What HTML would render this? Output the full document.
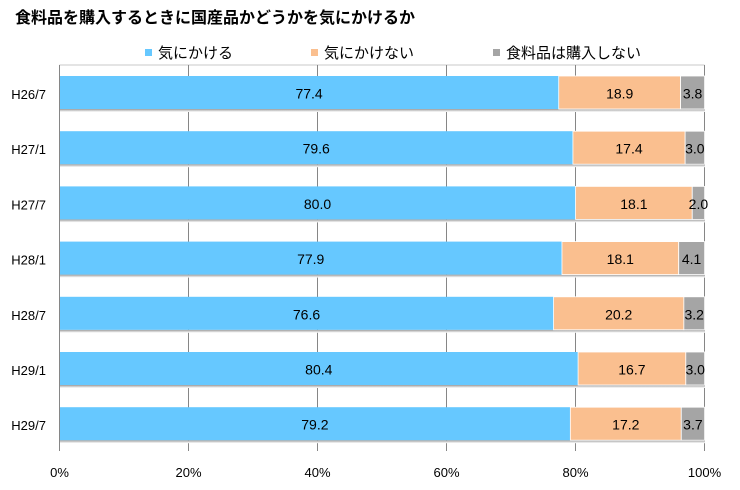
<!DOCTYPE html>
<html><head><meta charset="utf-8"><style>
html,body{margin:0;padding:0;background:#fff;}
svg{display:block;}
text{font-family:"Liberation Sans","Noto Sans CJK JP",sans-serif;fill:#000;}
.cj{font-family:"Liberation Sans","Noto Sans CJK JP",sans-serif;}
</style></head><body>
<svg width="740" height="490" viewBox="0 0 740 490" xmlns="http://www.w3.org/2000/svg">
<defs>
<linearGradient id="sh" x1="0" y1="0" x2="0" y2="1">
<stop offset="0" stop-color="#9a9a9a"/><stop offset="1" stop-color="#ffffff"/>
</linearGradient>
</defs>
<text x="15" y="23" class="cj" font-size="16" font-weight="bold">食料品を購入するときに国産品かどうかを気にかけるか</text>
<!-- legend -->
<rect x="145" y="49" width="7" height="7" fill="#66C8FF"/>
<text x="158" y="58" class="cj" font-size="15">気にかける</text>
<rect x="311" y="49" width="7" height="7" fill="#FABF8F"/>
<text x="324" y="58" class="cj" font-size="15">気にかけない</text>
<rect x="493" y="49" width="7" height="7" fill="#A5A5A5"/>
<text x="506" y="58" class="cj" font-size="15">食料品は購入しない</text>
<!-- plot frame -->
<line x1="59.5" y1="65" x2="704.5" y2="65" stroke="#c8c8c8" stroke-width="1"/>
<g stroke="#868686" stroke-width="1">
<line x1="188.5" y1="65" x2="188.5" y2="451"/>
<line x1="317.5" y1="65" x2="317.5" y2="451"/>
<line x1="446.5" y1="65" x2="446.5" y2="451"/>
<line x1="575.5" y1="65" x2="575.5" y2="451"/>
<line x1="704.5" y1="65" x2="704.5" y2="451"/>
<line x1="59.5" y1="65" x2="59.5" y2="451"/>
</g>
<g id="bars">
<!-- row template: top y, height 33 -->
<g transform="translate(0,76)">
<rect x="60" y="33" width="645" height="3" fill="url(#sh)"/>
<rect x="60" y="0" width="498.73" height="33" fill="#66C8FF"/>
<rect x="558.73" y="0" width="121.87" height="33" fill="#FABF8F" stroke="#fff" stroke-width="0.8"/>
<rect x="680.6" y="0" width="24" height="33" fill="#A5A5A5" stroke="#fff" stroke-width="0.8"/>
</g>
<g transform="translate(0,131.2)">
<rect x="60" y="33" width="645" height="3" fill="url(#sh)"/>
<rect x="60" y="0" width="512.92" height="33" fill="#66C8FF"/>
<rect x="572.92" y="0" width="112.23" height="33" fill="#FABF8F" stroke="#fff" stroke-width="0.8"/>
<rect x="685.15" y="0" width="19.35" height="33" fill="#A5A5A5" stroke="#fff" stroke-width="0.8"/>
</g>
<g transform="translate(0,186.4)">
<rect x="60" y="33" width="645" height="3" fill="url(#sh)"/>
<rect x="60" y="0" width="515.5" height="33" fill="#66C8FF"/>
<rect x="575.5" y="0" width="116.75" height="33" fill="#FABF8F" stroke="#fff" stroke-width="0.8"/>
<rect x="692.25" y="0" width="12.25" height="33" fill="#A5A5A5" stroke="#fff" stroke-width="0.8"/>
</g>
<g transform="translate(0,241.6)">
<rect x="60" y="33" width="645" height="3" fill="url(#sh)"/>
<rect x="60" y="0" width="501.96" height="33" fill="#66C8FF"/>
<rect x="561.96" y="0" width="116.74" height="33" fill="#FABF8F" stroke="#fff" stroke-width="0.8"/>
<rect x="678.7" y="0" width="25.8" height="33" fill="#A5A5A5" stroke="#fff" stroke-width="0.8"/>
</g>
<g transform="translate(0,296.8)">
<rect x="60" y="33" width="645" height="3" fill="url(#sh)"/>
<rect x="60" y="0" width="493.57" height="33" fill="#66C8FF"/>
<rect x="553.57" y="0" width="130.29" height="33" fill="#FABF8F" stroke="#fff" stroke-width="0.8"/>
<rect x="683.86" y="0" width="20.64" height="33" fill="#A5A5A5" stroke="#fff" stroke-width="0.8"/>
</g>
<g transform="translate(0,352)">
<rect x="60" y="33" width="645" height="3" fill="url(#sh)"/>
<rect x="60" y="0" width="518.08" height="33" fill="#66C8FF"/>
<rect x="578.08" y="0" width="107.72" height="33" fill="#FABF8F" stroke="#fff" stroke-width="0.8"/>
<rect x="685.8" y="0" width="18.7" height="33" fill="#A5A5A5" stroke="#fff" stroke-width="0.8"/>
</g>
<g transform="translate(0,407.2)">
<rect x="60" y="33" width="645" height="3" fill="url(#sh)"/>
<rect x="60" y="0" width="510.34" height="33" fill="#66C8FF"/>
<rect x="570.34" y="0" width="110.94" height="33" fill="#FABF8F" stroke="#fff" stroke-width="0.8"/>
<rect x="681.28" y="0" width="23.22" height="33" fill="#A5A5A5" stroke="#fff" stroke-width="0.8"/>
</g>
</g>
<!-- value labels -->
<g font-size="14" text-anchor="middle">
<text x="309.1" y="98.5">77.4</text><text x="619.7" y="98.5">18.9</text><text x="692.6" y="98.5">3.8</text>
<text x="316.2" y="153.7">79.6</text><text x="629.0" y="153.7">17.4</text><text x="694.8" y="153.7">3.0</text>
<text x="317.5" y="208.9">80.0</text><text x="633.9" y="208.9">18.1</text><text x="698.4" y="208.9">2.0</text>
<text x="310.7" y="264.1">77.9</text><text x="620.3" y="264.1">18.1</text><text x="691.6" y="264.1">4.1</text>
<text x="306.5" y="319.3">76.6</text><text x="618.7" y="319.3">20.2</text><text x="694.2" y="319.3">3.2</text>
<text x="318.8" y="374.5">80.4</text><text x="631.9" y="374.5">16.7</text><text x="695.2" y="374.5">3.0</text>
<text x="314.9" y="429.7">79.2</text><text x="625.8" y="429.7">17.2</text><text x="692.9" y="429.7">3.7</text>
</g>
<!-- category labels -->
<g font-size="13" text-anchor="end">
<text x="46" y="99">H26/7</text>
<text x="46" y="154.2">H27/1</text>
<text x="46" y="209.4">H27/7</text>
<text x="46" y="264.6">H28/1</text>
<text x="46" y="319.8">H28/7</text>
<text x="46" y="375">H29/1</text>
<text x="46" y="430.2">H29/7</text>
</g>
<!-- x axis labels -->
<g font-size="13" text-anchor="middle">
<text x="59.5" y="477">0%</text>
<text x="188.5" y="477">20%</text>
<text x="317.5" y="477">40%</text>
<text x="446.5" y="477">60%</text>
<text x="575.5" y="477">80%</text>
<text x="704.5" y="477">100%</text>
</g>
</svg>
</body></html>
